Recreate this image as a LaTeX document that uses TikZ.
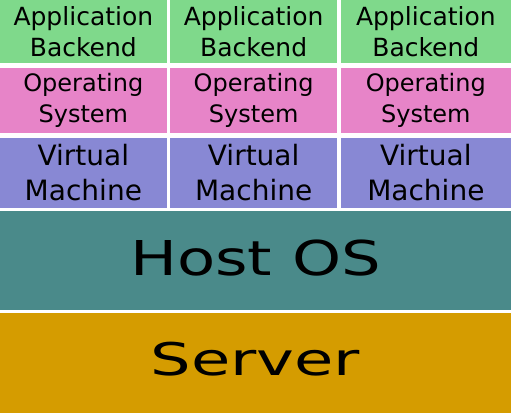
\documentclass[tikz,border=0pt]{standalone}
\usepackage{fontspec}
\setmainfont{DejaVu Sans}
\usepackage{graphicx}
\definecolor{appgreen}{HTML}{7FD98B}
\definecolor{ospink}{HTML}{E784C8}
\definecolor{vmpurple}{HTML}{8888D4}
\definecolor{hostteal}{HTML}{4A8A8A}
\definecolor{servergold}{HTML}{D59C00}
\begin{document}
\begin{tikzpicture}[x=1pt, y=-1pt, layer/.style={inner sep=0pt, outer sep=0pt, align=center, text=black}]
\fill[white] (0,0) rectangle (511,413);
\useasboundingbox (0,0) rectangle (511,413);
\foreach \i/\cx/\w in {1/83.35/166.7, 2/253.65/167.3, 3/425.85/170.3} {
	\node[layer, fill=appgreen, minimum width=\w pt, minimum height=63.3pt, font=\fontsize{25}{31.7}\selectfont] (app\i) at (\cx,31.65) {Application\\Backend};
	\node[layer, fill=ospink, minimum width=\w pt, minimum height=65.2pt, font=\fontsize{24}{31}\selectfont] (os\i) at (\cx,100.1) {Operating\\System};
	\node[layer, fill=vmpurple, minimum width=\w pt, minimum height=70.2pt, font=\fontsize{28}{35}\selectfont] (vm\i) at (\cx,172.6) {Virtual\\Machine};
}
\node[layer, fill=hostteal, minimum width=511pt, minimum height=99pt, label={[font=\fontsize{48}{58}\selectfont, yshift=2pt]center:\scalebox{1.3}[1]{Host OS}}] (host) at (255.5,260.5) {};
\node[layer, fill=servergold, minimum width=511pt, minimum height=100pt, label={[font=\fontsize{45}{54}\selectfont, yshift=3.5pt]center:\scalebox{1.42}[1]{Server}}] (server) at (255.5,363) {};
\end{tikzpicture}
\end{document}
